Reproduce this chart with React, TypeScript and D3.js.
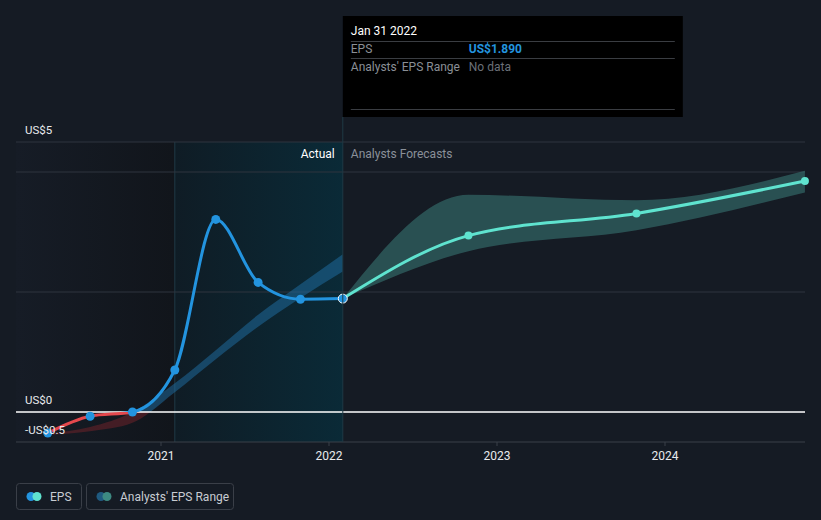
import React from "react";
import * as d3 from "d3";

const actualDates = ["2020-04-30", "2020-07-31", "2020-10-31", "2021-01-31", "2021-04-30", "2021-07-31", "2021-10-31", "2022-01-31"];
const actualEps = [-0.35, -0.07, 0.0, 0.7, 3.21, 2.16, 1.88, 1.89];
const histLow = [-0.38, -0.32, -0.18, 0.33, 0.88, 1.42, 1.9, 2.34];
const histHigh = [-0.36, -0.25, 0.0, 0.48, 1.03, 1.62, 2.13, 2.63];

const forecastDates = ["2022-01-31", "2022-10-31", "2023-10-31", "2024-10-31"];
const forecastEps = [1.89, 2.94, 3.31, 3.85];
const forecastLow = [1.89, 2.68, 3.03, 3.66];
const forecastHigh = [1.89, 3.62, 3.53, 4.02];

const yearTicks = ["2021", "2022", "2023", "2024"];
const gridValues = [2, 4, 4.5];
const yLabels = [
  { v: 4.5, t: "US$5" },
  { v: 0, t: "US$0" },
  { v: -0.5, t: "-US$0.5" },
];

const W = 821;
const H = 520;
const BG = "#151b24";
const BLUE = "#2394df";
const RED = "#e5484d";
const TEAL = "#5fe3cf";

const parse = (s: string) => new Date(s + "T00:00:00");

export default function App() {
  const x = d3.scaleTime().domain([parse("2021-01-01"), parse("2024-01-01")]).range([161, 665]);
  const y = d3.scaleLinear().domain([-0.5, 4.5]).range([442, 142]);
  const left = 16;
  const right = 805;
  const y0 = y(0);
  const nowX = x(parse("2022-01-31"));
  const actualStartX = x(parse("2021-01-31"));

  const actual = actualDates.map((d, i) => ({ d: parse(d), v: actualEps[i], lo: histLow[i], hi: histHigh[i] }));
  const fc = forecastDates.map((d, i) => ({ d: parse(d), v: forecastEps[i], lo: forecastLow[i], hi: forecastHigh[i] }));

  const line = d3.line<any>().x((p) => x(p.d)).y((p) => y(p.v)).curve(d3.curveMonotoneX);
  const area = d3.area<any>().x((p) => x(p.d)).y0((p) => y(p.lo)).y1((p) => y(p.hi)).curve(d3.curveMonotoneX);

  const font = "Roboto, 'Noto Sans', sans-serif";

  return (
    <svg width={W} height={H} style={{ position: "fixed", left: 0, top: 0, background: BG }} fontFamily={font}>
      <defs>
        <linearGradient id="pastGrad" x1="0" x2="1" y1="0" y2="0">
          <stop offset="0" stopColor="#161c26" />
          <stop offset="1" stopColor="#11151b" />
        </linearGradient>
        <linearGradient id="actGrad" x1="0" x2="1" y1="0" y2="0">
          <stop offset="0" stopColor="#0f1c25" />
          <stop offset="1" stopColor="#0a2a37" />
        </linearGradient>
        <clipPath id="above">
          <rect x={0} y={0} width={W} height={y0} />
        </clipPath>
        <clipPath id="below">
          <rect x={0} y={y0} width={W} height={H - y0} />
        </clipPath>
      </defs>
      <rect x={0} y={0} width={W} height={H} fill={BG} />
      <rect x={left} y={y(4.5)} width={actualStartX - left} height={y(-0.5) - y(4.5)} fill="url(#pastGrad)" />
      <rect x={actualStartX} y={y(4.5)} width={nowX - actualStartX} height={y(-0.5) - y(4.5)} fill="url(#actGrad)" />
      <line x1={actualStartX} x2={actualStartX} y1={y(4.5)} y2={y(-0.5)} stroke="#1f3a45" strokeWidth={1} />

      {gridValues.map((g) => (
        <line key={g} x1={left} x2={right} y1={y(g)} y2={y(g)} stroke="#2f353e" strokeWidth={1} />
      ))}
      <line x1={left} x2={right} y1={y(-0.5)} y2={y(-0.5)} stroke="#3a4049" strokeWidth={1} />
      {yearTicks.map((t) => (
        <g key={t}>
          <line x1={x(parse(t + "-01-01"))} x2={x(parse(t + "-01-01"))} y1={y(-0.5)} y2={y(-0.5) + 4} stroke="#3a4049" />
          <text x={x(parse(t + "-01-01"))} y={y(-0.5) + 18} textAnchor="middle" fill="#e8eaed" fontSize={12}>
            {t}
          </text>
        </g>
      ))}

      {/* historical analyst range */}
      <path d={area(actual) || ""} fill="#1f6fa6" opacity={0.5} clipPath="url(#above)" />
      <path d={area(actual) || ""} fill="#6e2229" opacity={0.55} clipPath="url(#below)" />

      {/* forecast range */}
      <path d={area(fc) || ""} fill="#3a7c78" opacity={0.55} />

      <line x1={left} x2={right} y1={y0} y2={y0} stroke="#ffffff" strokeWidth={1.5} />

      {/* forecast line */}
      <path d={line(fc) || ""} fill="none" stroke={TEAL} strokeWidth={3} />
      {fc.slice(1).map((p, i) => (
        <circle key={i} cx={x(p.d)} cy={y(p.v)} r={4} fill={TEAL} />
      ))}

      {/* actual line */}
      <path d={line(actual) || ""} fill="none" stroke={BLUE} strokeWidth={3} clipPath="url(#above)" />
      <path d={line(actual) || ""} fill="none" stroke={RED} strokeWidth={3} clipPath="url(#below)" />
      {actual.slice(0, -1).map((p, i) => (
        <circle key={i} cx={x(p.d)} cy={y(p.v)} r={4.5} fill={BLUE} />
      ))}
      <circle cx={nowX} cy={y(actualEps[actualEps.length - 1])} r={4.5} fill={BLUE} stroke="#ffffff" strokeWidth={1} />

      <line x1={nowX} x2={nowX} y1={117} y2={y(-0.5)} stroke="#1f3a45" strokeWidth={1} />

      {yLabels.map((l) => (
        <text key={l.t} x={25} y={y(l.v) - 8} fill="#e8eaed" fontSize={11.5}>
          {l.t}
        </text>
      ))}

      <text x={nowX - 8} y={158} textAnchor="end" fill="#ffffff" fontSize={12}>Actual</text>
      <text x={nowX + 8} y={158} fill="#8a9099" fontSize={12}>Analysts Forecasts</text>

      {/* tooltip */}
      <rect x={nowX} y={16} width={340} height={101} fill="#000000" />
      <text x={nowX + 8} y={35} fill="#ffffff" fontSize={12}>Jan 31 2022</text>
      <line x1={nowX + 8} x2={nowX + 332} y1={41.5} y2={41.5} stroke="#3a3d42" />
      <text x={nowX + 8} y={53} fill="#8a8f96" fontSize={12}>EPS</text>
      <text x={nowX + 126} y={53} fill={BLUE} fontSize={12} fontWeight="bold">US$1.890</text>
      <line x1={nowX + 8} x2={nowX + 332} y1={58.5} y2={58.5} stroke="#3a3d42" />
      <text x={nowX + 8} y={71} fill="#8a8f96" fontSize={12}>Analysts' EPS Range</text>
      <text x={nowX + 126} y={71} fill="#6b7078" fontSize={12}>No data</text>
      <line x1={nowX + 8} x2={nowX + 332} y1={109.5} y2={109.5} stroke="#3a3d42" />

      {/* legend */}
      <rect x={16.5} y={483.5} width={65} height={26} rx={3} fill="none" stroke="#3a3f48" />
      <circle cx={31} cy={496.5} r={4.5} fill={BLUE} />
      <circle cx={37} cy={496.5} r={4.5} fill={TEAL} />
      <text x={50} y={500.5} fill="#c8ccd2" fontSize={12}>EPS</text>
      <rect x={86.5} y={483.5} width={147} height={26} rx={3} fill="none" stroke="#3a3f48" />
      <circle cx={101} cy={496.5} r={4.5} fill="#1f5a80" />
      <circle cx={107} cy={496.5} r={4.5} fill="#3d8a82" />
      <text x={120} y={500.5} fill="#c8ccd2" fontSize={12}>Analysts' EPS Range</text>
    </svg>
  );
}
